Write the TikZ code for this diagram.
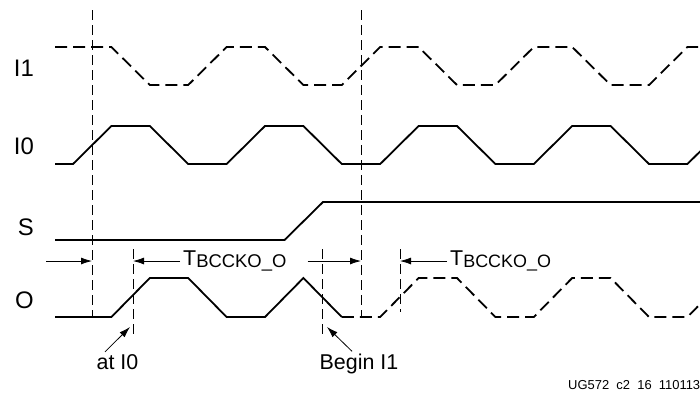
\documentclass[tikz,border=0pt]{standalone}
\usepackage{fontspec}
\setmainfont{Liberation Sans}
\usetikzlibrary{arrows.meta}

\begin{document}
\begin{tikzpicture}[x=1bp,y=-1bp,
    wave/.style={line width=1.8bp,line join=miter},
    dwave/.style={wave,dash pattern=on 12bp off 6bp},
    guide/.style={line width=0.8bp,dash pattern=on 10bp off 5bp},
    dim/.style={-{Latex[length=11bp,width=7bp]},line width=0.8bp},
    sig/.style={anchor=east,inner sep=0pt,font=\fontsize{24}{24}\selectfont},
    delay/.style={anchor=west,inner sep=0pt,font=\fontsize{21.5}{21.5}\selectfont},
    note/.style={inner sep=2bp,font=\fontsize{21.5}{21.5}\selectfont}]
    \useasboundingbox (0,0) rectangle (700,395);
    %signal names
    \node[sig] (i1) at (34,68.5) {I1};
    \node[sig] (i0) at (34,146) {I0};
    \node[sig] (s) at (34,227.5) {S};
    \node[sig] (o) at (34,300) {O};
    %I1
    \draw[dwave] (55,47) -- (111.4,47)
      \foreach \p in {1,...,4} {-- ++(38.4,38) -- ++(38.4,0) -- ++(38.4,-38) -- ++(38.4,0)};
    %I0
    \draw[wave] (55,164) -- (73,164)
      \foreach \p in {1,...,5} {-- ++(38.4,-38) -- ++(38.4,0) -- ++(38.4,38) -- ++(38.4,0)};
    %S
    \draw[wave] (55,240) -- (284.5,240) -- (323,202) -- (700,202);
    %O
    \draw[wave] (55,317) -- (111.4,317) -- (149.8,278) -- (188.2,278) -- (226.6,317)
      -- (265,317) -- (303.4,278) -- (341.8,317);
    \draw[dwave] (341.8,317) -- (380.2,317)
      \foreach \p in {1,...,3} {-- ++(38.4,-39) -- ++(38.4,0) -- ++(38.4,39) -- ++(38.4,0)};
    %select points
    \draw[guide] (92,10) -- (92,317);
    \draw[guide] (361,10) -- (361,317);
    \draw[guide] (133,249) -- (133,337);
    \draw[guide] (322,249) -- (322,337);
    \draw[guide] (400,249) -- (400,312);
    \coordinate (in0) at (46,261);
    \coordinate (cut0) at (92,261);
    \coordinate (cut1) at (361,261);
    \coordinate (tk0) at (133,261);
    \coordinate (tk1) at (400,261);
    \coordinate (hit0) at (130,327);
    \coordinate (hit1) at (327,327);
    %delays
    \node[delay] (tb0) at (183,261)
      {T\raisebox{-2.5bp}{\fontsize{18.5}{18.5}\selectfont BCCKO\_O}};
    \node[delay] (tb1) at (450,261)
      {T\raisebox{-2.5bp}{\fontsize{18}{18}\selectfont BCCKO\_O}};
    \draw[dim] (in0) -- (cut0);
    \draw[dim] ([xshift=-3bp]tb0.west) -- (tk0);
    \draw[dim] ([xshift=21bp]tb0.east) -- (cut1);
    \draw[dim] ([xshift=-3bp]tb1.west) -- (tk1);
    %notes
    \node[note,anchor=base] (at0) at (117.5,369) {at I0};
    \node[note,anchor=base] (begin1) at (359,369) {Begin I1};
    \draw[dim] ([xshift=-12.5bp]at0.north) -- (hit0);
    \draw[dim] ([xshift=-7bp]begin1.north) -- (hit1);
    \node[anchor=base west,inner sep=0pt,font=\fontsize{13}{13}\selectfont] (fig) at (568,389)
      {UG572\ \ c2\ \ 16\ \ 110113};
\end{tikzpicture}
\end{document}
